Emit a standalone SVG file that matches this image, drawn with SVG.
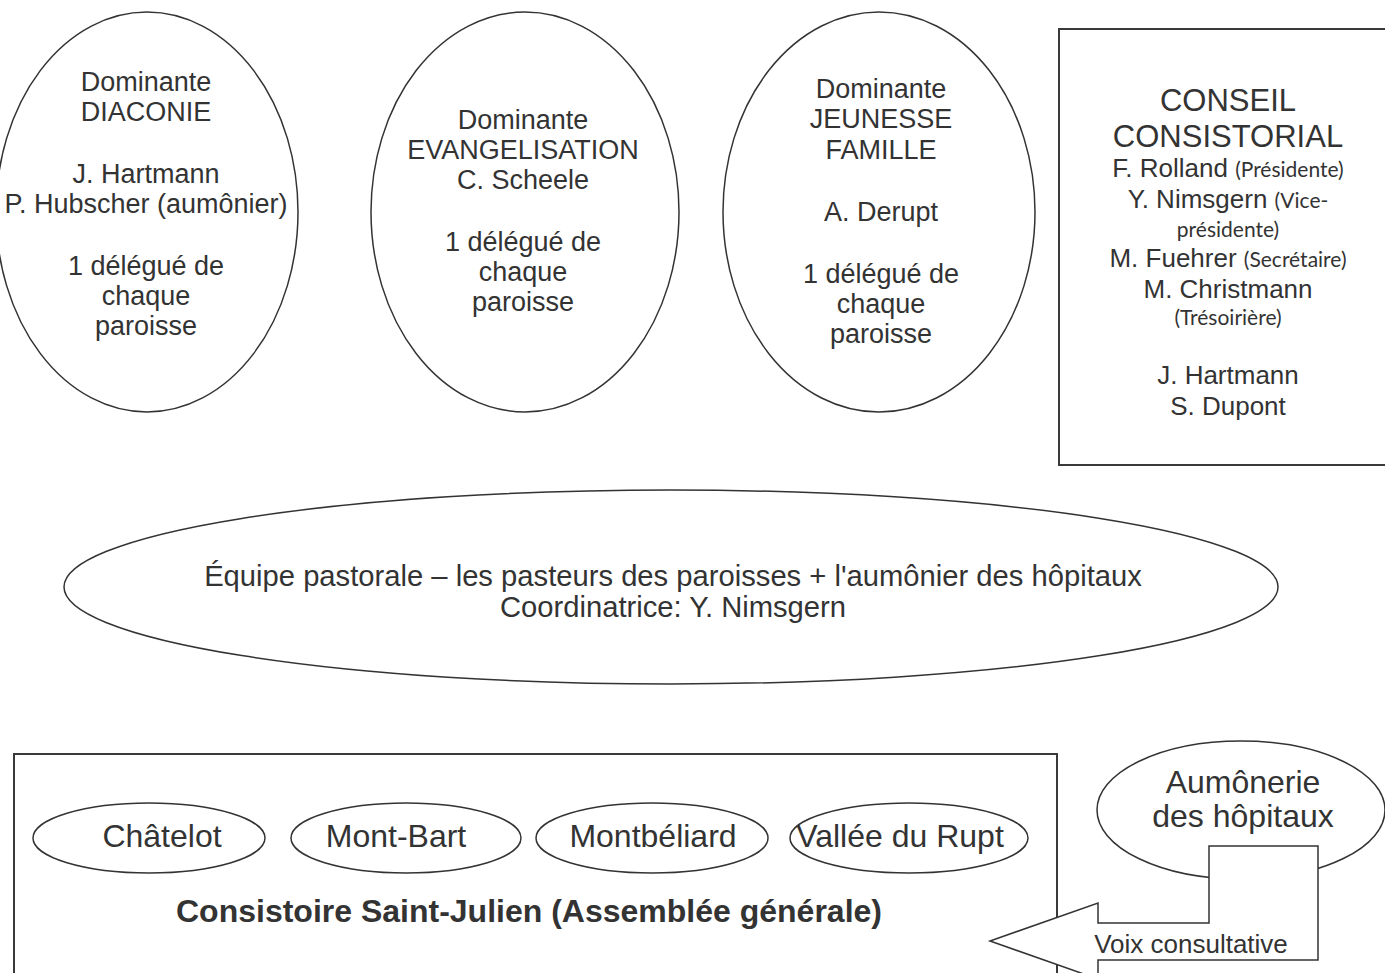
<svg xmlns="http://www.w3.org/2000/svg" width="1385" height="973" viewBox="0 0 1385 973">
<style>
.shape{fill:#fff;stroke:#333;stroke-width:1.5}
.box{fill:#fff;stroke:#3a3a3a;stroke-width:2}
text{font-family:"Liberation Sans",Arial,sans-serif;fill:#333;text-anchor:middle}
.t27{font-size:27px}
.t26{font-size:26px}
.t31{font-size:31px}
.t32{font-size:32px}
.t29{font-size:29.2px}
.sm{font-family:Lato,"Open Sans",sans-serif;font-size:21px}
.b{font-weight:bold;font-size:32px}
</style>
<rect width="1385" height="973" fill="#fff"/>
<g id="diaconie">
<ellipse class="shape" cx="147" cy="212" rx="151" ry="200"/>
<text class="t27"><tspan x="146" y="91">Dominante</tspan><tspan x="146" y="121">DIACONIE</tspan><tspan x="146" y="183">J. Hartmann</tspan><tspan x="146" y="213">P. Hubscher (aumônier)</tspan><tspan x="146" y="275">1 délégué de</tspan><tspan x="146" y="305">chaque</tspan><tspan x="146" y="335">paroisse</tspan></text>
</g>
<g id="evangelisation">
<ellipse class="shape" cx="525" cy="212" rx="154" ry="200"/>
<text class="t27"><tspan x="523" y="129">Dominante</tspan><tspan x="523" y="159">EVANGELISATION</tspan><tspan x="523" y="189">C. Scheele</tspan><tspan x="523" y="251">1 délégué de</tspan><tspan x="523" y="281">chaque</tspan><tspan x="523" y="311">paroisse</tspan></text>
</g>
<g id="jeunesse">
<ellipse class="shape" cx="879" cy="212" rx="156" ry="200"/>
<text class="t27"><tspan x="881" y="98">Dominante</tspan><tspan x="881" y="128">JEUNESSE</tspan><tspan x="881" y="159">FAMILLE</tspan><tspan x="881" y="221">A. Derupt</tspan><tspan x="881" y="283">1 délégué de</tspan><tspan x="881" y="313">chaque</tspan><tspan x="881" y="343">paroisse</tspan></text>
</g>
<g id="conseil">
<rect class="box" x="1059" y="29" width="340" height="436"/>
<text class="t31"><tspan x="1228" y="111">CONSEIL</tspan><tspan x="1228" y="147">CONSISTORIAL</tspan></text>
<text class="t26" x="1228" y="177">F. Rolland <tspan class="sm">(Présidente)</tspan></text>
<text class="t26" x="1228" y="208">Y. Nimsgern <tspan class="sm">(Vice-</tspan></text>
<text class="sm" x="1228" y="237">présidente)</text>
<text class="t26" x="1228" y="267">M. Fuehrer <tspan class="sm">(Secrétaire)</tspan></text>
<text class="t26" x="1228" y="298">M. Christmann</text>
<text class="sm" x="1228" y="325">(Trésoirière)</text>
<text class="t26"><tspan x="1228" y="384">J. Hartmann</tspan><tspan x="1228" y="415">S. Dupont</tspan></text>
</g>
<g id="equipe">
<ellipse class="shape" cx="671" cy="587" rx="607" ry="97"/>
<text class="t29"><tspan x="673" y="586">Équipe pastorale – les pasteurs des paroisses + l'aumônier des hôpitaux</tspan><tspan x="673" y="617">Coordinatrice: Y. Nimsgern</tspan></text>
</g>
<g id="consistoire">
<rect class="box" x="14" y="754" width="1043" height="240"/>
<text class="b" x="529" y="922">Consistoire Saint-Julien (Assemblée générale)</text>
</g>
<g id="chatelot">
<ellipse class="shape" cx="149" cy="838" rx="116" ry="35"/>
<text class="t32" x="162" y="847">Châtelot</text>
</g>
<g id="montbart">
<ellipse class="shape" cx="406" cy="838" rx="115" ry="35"/>
<text class="t32" x="396" y="847">Mont-Bart</text>
</g>
<g id="montbeliard">
<ellipse class="shape" cx="652" cy="838" rx="116" ry="35"/>
<text class="t32" x="653" y="847">Montbéliard</text>
</g>
<g id="vallee">
<ellipse class="shape" cx="909" cy="838" rx="119" ry="35"/>
<text class="t32" x="900" y="847">Vallée du Rupt</text>
</g>
<g id="aumonerie">
<ellipse class="shape" cx="1241" cy="810" rx="144" ry="69"/>
<text class="t32"><tspan x="1243" y="793">Aumônerie</tspan><tspan x="1243" y="827">des hôpitaux</tspan></text>
</g>
<g id="connectors">
<polygon class="shape" points="1209,846 1318,846 1318,960 1098,960 1098,979 990,941 1098,903 1098,923 1209,923"/>
<text class="t26" x="1191" y="953">Voix consultative</text>
</g>
</svg>
